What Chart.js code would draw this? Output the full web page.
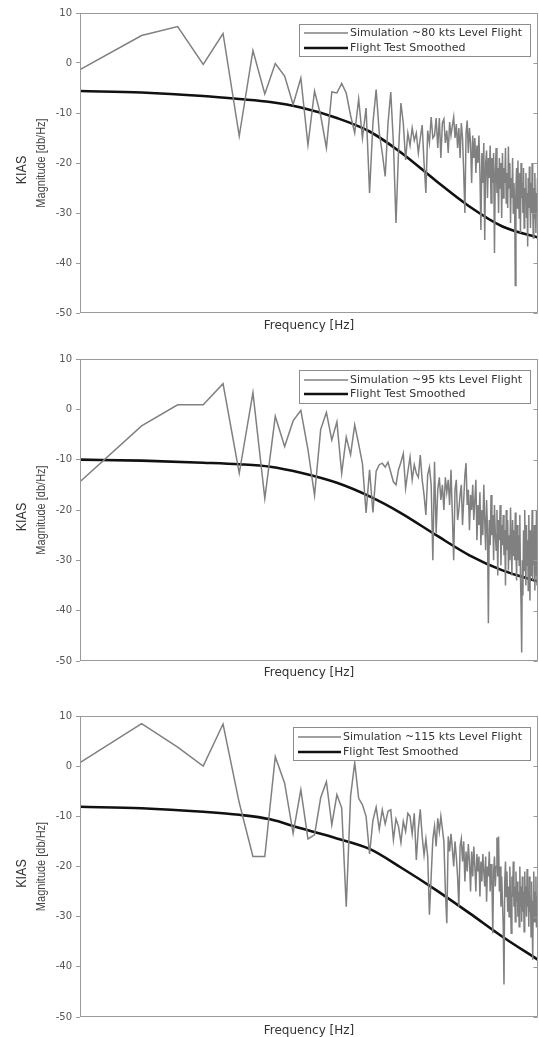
<!DOCTYPE html>
<html>
<head>
<meta charset="utf-8">
<script src="https://cdn.jsdelivr.net/npm/chart.js@4.4.0/dist/chart.umd.min.js"></script>
<style>
  html, body { margin: 0; padding: 0; background: #fff; }
  .panel { position: absolute; left: 0; width: 539px; }
</style>
</head>
<body>
<div class="panel" style="top:0"><canvas id="c1" width="539" height="340"></canvas></div>
<div class="panel" style="top:340px"><canvas id="c2" width="539" height="350"></canvas></div>
<div class="panel" style="top:690px"><canvas id="c3" width="539" height="347"></canvas></div>
<script>
const yTicks = [-50, -40, -30, -20, -10, 0, 10];
const xTitle = 'Frequency [Hz]';
const yTitle = 'KIAS';
const ySubTitle = 'Magnitude [db/Hz]';
const smoothName = 'Flight Test Smoothed';
const simNames = ['Simulation ~80 kts Level Flight', 'Simulation ~95 kts Level Flight', 'Simulation ~115 kts Level Flight'];

// simulation spectra, one value per frequency bin (bin 1 .. 173)
const sim80 = [
  -1.3, 5.5, 7.3, -0.3, 5.9, -14.6, 2.5, -6.2, -0.1, -2.6,
  -8.3, -3.0, -16.4, -5.6, -10.5, -17.0, -5.8, -6.0, -4.1, -6.0,
  -10.5, -14.0, -7.2, -15.0, -9.0, -26.0, -12.0, -5.3, -14.0, -18.0,
  -22.7, -12.0, -5.8, -16.0, -32.0, -18.0, -8.0, -12.0, -19.4, -14.0,
  -16.5, -13.0, -15.5, -14.0, -18.0, -15.0, -12.4, -20.0, -26.0, -13.5,
  -16.0, -10.8, -15.0, -14.5, -11.0, -17.0, -11.0, -19.0, -12.0, -11.2,
  -16.0, -13.5, -18.0, -11.8, -14.5, -12.5, -10.8, -15.0, -12.2, -17.0,
  -13.0, -19.0, -12.0, -15.0, -22.0, -30.0, -14.0, -11.5, -18.0, -13.0,
  -16.0, -24.0, -14.5, -19.0, -15.0, -22.0, -16.5, -20.0, -14.5, -22.0,
  -33.4, -18.0, -24.0, -16.0, -35.4, -20.0, -17.5, -27.0, -19.0, -23.0,
  -16.5, -28.0, -19.0, -24.0, -18.0, -38.0, -22.0, -17.0, -26.0, -21.0,
  -30.0, -19.0, -25.0, -20.0, -31.0, -18.0, -27.0, -21.0, -24.0, -17.0,
  -28.0, -22.0, -29.0, -16.7, -25.0, -20.0, -32.0, -23.0, -27.0, -19.0,
  -30.0, -24.0, -28.0, -44.5, -25.0, -21.0, -29.0, -19.5, -26.0, -31.0,
  -22.0, -34.0, -20.0, -27.0, -24.0, -30.0, -21.0, -33.0, -25.0, -28.0,
  -22.0, -31.0, -26.0, -36.7, -23.0, -29.0, -20.7, -27.0, -33.0, -24.0,
  -30.0, -20.0, -28.0, -35.0, -25.0, -31.0, -22.0, -29.0, -34.0, -26.0,
  -30.0, -23.0, -28.0
];
const sim95 = [
  -14.4, -3.3, 0.9, 0.9, 5.1, -12.7, 3.3, -17.7, -1.4, -7.4,
  -2.3, -0.2, -8.0, -17.1, -4.0, -0.6, -6.1, -2.5, -12.7, -5.5,
  -9.0, -3.1, -6.9, -10.8, -20.6, -12.0, -20.5, -12.3, -11.0, -10.7,
  -11.5, -10.5, -12.5, -14.4, -15.0, -12.0, -10.5, -8.8, -15.7, -12.4,
  -9.5, -14.0, -11.0, -12.7, -13.5, -9.1, -14.0, -17.0, -21.0, -13.0,
  -11.5, -15.0, -30.0, -10.4, -24.6, -16.0, -13.5, -18.0, -15.0, -20.0,
  -13.5, -16.5, -14.0, -19.0, -12.0, -21.0, -30.0, -16.0, -14.0, -22.0,
  -20.0, -17.0, -15.0, -23.0, -18.0, -13.0, -10.7, -19.0, -16.0, -24.0,
  -17.0, -20.0, -15.0, -22.0, -18.0, -14.0, -26.0, -19.0, -23.0, -16.5,
  -27.0, -20.0, -25.0, -15.0, -22.0, -28.0, -18.0, -24.0, -42.5, -22.0,
  -27.0, -17.0, -25.0, -21.0, -30.0, -19.0, -24.5, -28.0, -20.0, -33.0,
  -22.0, -26.0, -19.0, -31.0, -23.0, -27.0, -21.0, -29.0, -24.0, -35.0,
  -20.0, -28.0, -22.0, -32.0, -25.0, -30.0, -19.5, -27.0, -33.0, -22.0,
  -29.0, -24.0, -30.0, -20.5, -28.0, -34.0, -23.0, -30.0, -25.0, -31.0,
  -21.0, -33.0, -39.0, -48.3, -30.0, -37.0, -24.0, -32.0, -20.0, -29.0,
  -35.0, -23.0, -31.0, -26.0, -36.0, -21.0, -30.0, -38.0, -24.0, -33.0,
  -28.0, -20.0, -34.0, -26.0, -31.0, -23.0, -36.0, -27.0, -33.0, -20.0,
  -35.0, -29.0, -42.5
];
const sim115 = [
  0.7, 8.5, 3.8, 0.0, 8.4, -7.3, -18.0, -18.0, 1.9, -3.4,
  -13.4, -4.7, -14.5, -13.7, -6.3, -3.1, -11.7, -5.7, -8.3, -28.0,
  -6.0, 0.7, -6.4, -7.7, -10.0, -17.5, -10.8, -8.2, -12.6, -8.7,
  -11.5, -9.0, -8.7, -14.7, -10.5, -12.0, -15.2, -11.0, -13.0, -9.4,
  -10.0, -13.5, -9.4, -18.7, -12.5, -8.6, -14.0, -17.7, -14.5, -18.0,
  -29.6, -22.0, -14.5, -12.0, -16.0, -10.4, -13.0, -10.0, -12.5, -15.0,
  -24.7, -31.3, -14.0, -17.0, -13.5, -16.5, -20.0, -15.0, -18.0, -22.0,
  -28.0, -16.0, -14.5, -19.0, -15.0, -23.0, -17.0, -21.0, -15.5, -19.0,
  -25.0, -17.0, -22.0, -16.0, -20.0, -25.0, -17.5, -21.0, -18.0, -26.0,
  -19.0, -23.0, -17.5, -21.0, -24.0, -18.0, -27.0, -20.0, -22.0, -17.0,
  -25.0, -19.5, -23.0, -33.3, -21.0, -18.0, -24.0, -20.0, -14.2, -22.0,
  -14.0, -25.0, -20.0, -28.0, -22.0, -27.0, -32.0, -43.5, -23.0, -19.0,
  -26.0, -21.0, -29.0, -24.0, -30.0, -20.0, -27.0, -33.3, -22.0, -26.0,
  -19.0, -28.0, -24.0, -31.0, -21.0, -27.0, -23.0, -30.0, -25.0, -32.0,
  -20.0, -28.0, -24.0, -31.0, -22.0, -29.0, -25.0, -33.0, -21.0, -27.0,
  -24.0, -30.0, -20.5, -28.0, -25.0, -32.0, -22.0, -29.0, -26.0, -34.0,
  -23.0, -30.0, -38.6, -27.0, -21.0, -31.0, -25.0, -29.0, -22.0, -32.0,
  -26.0, -30.0, -24.0
];

// smoothed flight test curves, sampled at a few bins
const smoothBins = [1, 2, 4, 6, 8.5, 12, 18, 26, 37, 55, 80, 116, 173];
const smooth80 = [-5.6, -5.9, -6.6, -7.2, -7.8, -8.9, -11.0, -13.7, -17.9, -23.6, -28.7, -32.7, -34.9];
const smooth95 = [-10.0, -10.2, -10.6, -10.9, -11.4, -12.6, -14.6, -17.3, -20.6, -25.0, -29.0, -32.0, -34.2];
const smooth115 = [-8.1, -8.4, -9.1, -9.7, -10.6, -12.4, -14.4, -16.5, -20.2, -24.7, -29.3, -34.0, -38.6];

const FONT = '"DejaVu Sans", "Liberation Sans", Arial, sans-serif';

const panelDecor = {
  id: 'panelDecor',
  afterDatasetsDraw(chart, args, o) {
    const { ctx, chartArea: a } = chart;
    const L = Math.round(a.left) + 0.5, R = Math.round(a.right) - 0.5;
    const T = Math.round(a.top) + 0.5, B = Math.round(a.bottom) - 0.5;
    ctx.save();
    ctx.strokeStyle = '#9a9a9a';
    ctx.lineWidth = 1;
    ctx.strokeRect(L, T, R - L, B - T);
    const ys = chart.scales.y;
    ys.ticks.forEach(t => {
      const py = Math.round(ys.getPixelForValue(t.value)) + 0.5;
      ctx.beginPath();
      ctx.moveTo(R - 4, py);
      ctx.lineTo(R, py);
      ctx.stroke();
    });

    // legend box
    const lg = o.legend;
    ctx.fillStyle = '#fff';
    ctx.fillRect(lg.left, lg.top, lg.width, lg.height);
    ctx.strokeStyle = '#8c8c8c';
    ctx.lineWidth = 1;
    ctx.strokeRect(lg.left + 0.5, lg.top + 0.5, lg.width, lg.height);
    ctx.font = '11px ' + FONT;
    ctx.textBaseline = 'middle';
    ctx.textAlign = 'left';
    chart.data.datasets.forEach((ds, i) => {
      const y = lg.top + lg.rows[i];
      ctx.strokeStyle = ds.borderColor;
      ctx.lineWidth = ds.borderWidth;
      ctx.beginPath();
      ctx.moveTo(lg.lineFrom, y);
      ctx.lineTo(lg.lineTo, y);
      ctx.stroke();
      ctx.fillStyle = '#333';
      ctx.fillText(ds.label, lg.textX, y);
    });
    ctx.restore();
  },
  afterDraw(chart) {
    const { ctx, chartArea: a } = chart;
    const cy = (a.top + a.bottom) / 2;
    ctx.save();
    ctx.textAlign = 'center';
    ctx.textBaseline = 'middle';
    ctx.fillStyle = '#333';
    ctx.translate(21.5, cy + 7);
    ctx.rotate(-Math.PI / 2);
    ctx.scale(1, 1.2);
    ctx.font = '12.5px "Liberation Sans", Arial, sans-serif';
    ctx.fillText(yTitle, 0, 0);
    ctx.restore();

    ctx.save();
    ctx.textAlign = 'center';
    ctx.textBaseline = 'middle';
    ctx.fillStyle = '#444';
    ctx.translate(41.5, cy);
    ctx.rotate(-Math.PI / 2);
    ctx.scale(1, 1.15);
    ctx.font = '11px "Liberation Sans", Arial, sans-serif';
    ctx.fillText(ySubTitle, 0, 0);
    ctx.restore();
  }
};

function makePanel(id, simName, simVals, smoothVals, cfg) {
  const simPts = simVals.map((v, i) => ({ x: i + 1, y: v }));
  const smoothPts = smoothVals.map((v, i) => ({ x: smoothBins[i], y: v }));
  return new Chart(document.getElementById(id), {
    type: 'line',
    data: {
      datasets: [
        {
          label: simName,
          data: simPts,
          borderColor: '#808080',
          borderWidth: 1.5,
          pointRadius: 0,
          tension: 0
        },
        {
          label: smoothName,
          data: smoothPts,
          borderColor: '#111',
          borderWidth: 2.6,
          pointRadius: 0,
          cubicInterpolationMode: 'monotone'
        }
      ]
    },
    options: {
      responsive: false,
      animation: false,
      events: [],
      layout: { padding: { top: cfg.top, right: 1, left: 0, bottom: 0 } },
      scales: {
        x: {
          type: 'logarithmic',
          min: 1,
          max: 173,
          ticks: { display: false },
          grid: { display: false },
          border: { display: false },
          title: {
            display: true,
            text: xTitle,
            color: '#333',
            font: { family: FONT, size: 12, lineHeight: 1 },
            padding: { top: 0, bottom: cfg.titlePad }
          },
          afterFit: s => { s.height = cfg.xAxisH; }
        },
        y: {
          min: -50,
          max: 10,
          afterBuildTicks: s => { s.ticks = yTicks.map(v => ({ value: v })); },
          ticks: {
            color: '#555',
            padding: 4,
            font: { family: FONT, size: 10 }
          },
          grid: { display: true, drawOnChartArea: false, drawTicks: true, tickLength: 4, color: '#9a9a9a' },
          border: { display: false },
          afterFit: s => { s.width = 80; }
        }
      },
      plugins: {
        legend: { display: false },
        tooltip: { enabled: false },
        panelDecor: { legend: cfg.legend }
      }
    },
    plugins: [panelDecor]
  });
}

makePanel('c1', simNames[0], sim80, smooth80, {
  top: 13, xAxisH: 27, titlePad: 8,
  legend: { left: 299, top: 24, width: 231, height: 32, rows: [9, 24], lineFrom: 304, lineTo: 348, textX: 350 }
});
makePanel('c2', simNames[1], sim95, smooth95, {
  top: 19, xAxisH: 29, titlePad: 10.7,
  legend: { left: 299, top: 30, width: 231, height: 33, rows: [10, 24], lineFrom: 304, lineTo: 348, textX: 350 }
});
makePanel('c3', simNames[2], sim115, smooth115, {
  top: 26, xAxisH: 20, titlePad: 0,
  legend: { left: 293, top: 37, width: 237, height: 33, rows: [10, 25], lineFrom: 298, lineTo: 341, textX: 343 }
});
</script>
</body>
</html>
